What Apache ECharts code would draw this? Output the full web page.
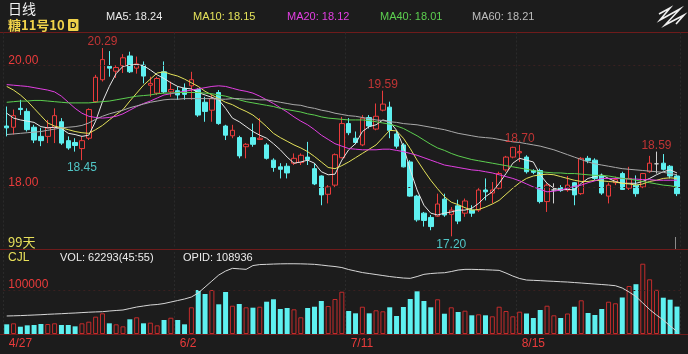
<!DOCTYPE html>
<html><head><meta charset="utf-8">
<script src="https://cdn.jsdelivr.net/npm/echarts@6/dist/echarts.min.js"></script>
<style>html,body{margin:0;padding:0;background:#1c1c1c;}#c{width:688px;height:354px;}</style>
</head><body><div id="c"></div>
<script>
const dates = ['4/27','4/28','4/29','5/2','5/3','5/4','5/5','5/6','5/9','5/10','5/11','5/12','5/13','5/16','5/17','5/18','5/19','5/20','5/23','5/24','5/25','5/26','5/27','5/31','6/1','6/2','6/3','6/6','6/7','6/8','6/9','6/10','6/13','6/14','6/15','6/16','6/17','6/20','6/21','6/22','6/23','6/24','6/27','6/28','6/29','6/30','7/1','7/5','7/6','7/7','7/11','7/12','7/13','7/14','7/15','7/18','7/19','7/20','7/21','7/22','7/25','7/26','7/27','7/28','7/29','8/1','8/2','8/3','8/4','8/5','8/8','8/9','8/10','8/11','8/12','8/15','8/16','8/17','8/18','8/19','8/22','8/23','8/24','8/25','8/26','8/29','8/30','8/31','9/1','9/2','9/6','9/7','9/8','9/9','9/12','9/13','9/14','9/15','9/16'];
const opens  = [19.01,18.99,19.30,19.25,18.99,18.84,18.84,18.99,19.08,18.77,18.74,18.64,18.81,19.41,19.77,19.99,19.91,20.00,20.16,19.96,20.01,19.68,19.55,19.90,19.57,19.59,19.63,19.67,19.61,19.40,19.27,19.56,19.01,18.85,18.82,18.67,18.82,18.79,18.70,18.45,18.34,18.35,18.40,18.41,18.50,18.31,18.19,17.89,18.04,18.49,19.05,18.81,18.70,19.15,18.96,19.27,19.32,18.88,18.70,18.42,17.86,17.58,17.51,17.53,17.81,17.56,17.70,17.58,17.63,17.63,17.96,17.91,17.99,18.29,18.50,18.57,18.50,18.28,18.28,17.77,17.96,18.00,17.96,18.08,17.90,18.48,18.45,18.20,17.86,18.08,18.23,17.99,18.04,18.01,18.26,18.39,18.40,18.35,18.19];
const closes = [18.98,19.18,19.28,18.95,18.78,18.77,18.98,19.18,18.73,18.65,18.69,18.77,19.28,19.81,20.10,19.96,19.97,20.13,19.90,20.03,19.83,19.71,19.79,19.57,19.61,19.52,19.53,19.77,19.19,19.25,19.46,19.05,18.86,18.94,18.52,18.71,18.71,18.81,18.48,18.33,18.30,18.24,18.48,18.53,18.46,18.06,17.88,18.01,18.54,19.05,18.90,18.74,19.14,19.01,19.17,19.37,18.94,18.68,18.34,17.86,17.47,17.46,17.36,17.73,17.55,17.63,17.45,17.78,17.58,17.96,17.93,17.96,18.23,18.50,18.66,18.59,18.26,18.25,17.77,18.04,17.96,17.95,18.04,17.88,18.48,18.44,18.15,17.91,18.04,18.13,17.97,18.15,17.90,18.23,18.40,18.39,18.30,18.19,17.90];
const lows   = [18.84,18.87,19.19,18.92,18.73,18.68,18.73,18.73,18.70,18.62,18.59,18.45,18.78,19.39,19.74,19.82,19.80,19.88,19.88,19.87,19.71,19.49,19.52,19.55,19.49,19.44,19.44,19.44,19.16,19.08,19.08,19.03,18.78,18.81,18.48,18.48,18.67,18.78,18.46,18.26,18.15,18.15,18.37,18.37,18.37,18.04,17.71,17.74,18.01,18.48,18.86,18.71,18.68,18.97,18.94,19.25,18.81,18.64,18.33,17.85,17.44,17.36,17.30,17.52,17.52,17.20,17.40,17.52,17.52,17.60,17.79,17.74,17.97,18.26,18.48,18.42,18.23,18.22,17.74,17.60,17.74,17.93,17.93,17.71,17.88,18.40,18.12,17.88,17.74,18.04,17.96,17.96,17.85,17.99,18.24,18.23,18.28,18.15,17.86];
const highs  = [19.33,19.28,19.44,19.30,19.03,18.98,19.11,19.30,19.14,18.84,18.81,18.84,19.30,19.85,20.29,20.24,20.01,20.19,20.23,20.15,20.07,19.82,19.82,20.07,19.74,19.66,19.71,19.90,19.63,19.49,19.52,19.60,19.03,19.03,18.85,18.73,19.05,19.14,18.73,18.48,18.40,18.40,18.56,18.56,18.75,18.40,18.20,18.04,18.56,19.16,19.14,18.92,19.19,19.19,19.38,19.59,19.41,18.94,18.73,18.45,17.88,17.60,17.55,17.90,17.90,17.68,17.80,17.82,17.71,17.99,18.15,18.09,18.26,18.52,18.67,18.70,18.53,18.30,18.31,18.07,18.07,18.04,18.19,18.09,18.50,18.52,18.48,18.23,18.08,18.18,18.26,18.34,18.20,18.24,18.52,18.59,18.55,18.37,18.22];
const ma5  = [19.22,19.14,19.11,19.09,19.07,19.00,18.98,18.99,18.97,18.89,18.87,18.84,18.86,19.09,19.41,19.66,19.87,19.99,20.01,20.02,20.00,19.93,19.85,19.79,19.72,19.66,19.63,19.62,19.56,19.52,19.48,19.44,19.30,19.14,19.08,19.00,18.92,18.86,18.81,18.72,18.62,18.50,18.40,18.42,18.45,18.40,18.26,18.21,18.22,18.45,18.62,18.72,18.92,19.00,19.03,19.11,19.08,18.94,18.67,18.29,17.96,17.71,17.58,17.55,17.58,17.60,17.63,17.63,17.66,17.74,17.85,17.93,18.07,18.23,18.40,18.48,18.45,18.42,18.21,18.07,17.99,17.96,17.97,17.96,18.07,18.15,18.18,18.21,18.15,18.10,18.07,18.07,18.07,18.10,18.15,18.21,18.26,18.29,18.24];
const ma10 = [19.66,19.60,19.52,19.42,19.30,19.18,19.06,19.01,18.98,18.95,18.92,18.90,18.89,18.95,19.02,19.11,19.20,19.28,19.42,19.55,19.68,19.78,19.88,19.90,19.86,19.83,19.78,19.72,19.66,19.58,19.52,19.46,19.40,19.36,19.30,19.25,19.19,19.10,19.00,18.89,18.82,18.76,18.70,18.65,18.59,18.51,18.42,18.33,18.31,18.36,18.42,18.49,18.56,18.63,18.70,18.82,18.94,18.93,18.81,18.64,18.45,18.28,18.12,17.98,17.85,17.76,17.72,17.67,17.63,17.64,17.68,17.73,17.79,17.89,17.99,18.08,18.15,18.19,18.21,18.22,18.21,18.18,18.15,18.12,18.10,18.10,18.12,18.11,18.10,18.09,18.07,18.06,18.04,18.06,18.10,18.12,18.15,18.16,18.15];
const ma20 = [19.69,19.68,19.67,19.66,19.64,19.62,19.60,19.57,19.50,19.40,19.30,19.22,19.17,19.15,19.14,19.15,19.17,19.21,19.27,19.33,19.38,19.42,19.47,19.52,19.54,19.56,19.58,19.60,19.62,19.64,19.66,19.67,19.66,19.63,19.60,19.58,19.55,19.50,19.44,19.38,19.31,19.24,19.16,19.09,19.03,18.95,18.86,18.79,18.72,18.68,18.64,18.63,18.62,18.62,18.62,18.63,18.63,18.61,18.59,18.56,18.53,18.49,18.45,18.41,18.37,18.35,18.33,18.31,18.29,18.28,18.26,18.24,18.21,18.18,18.15,18.11,18.06,18.01,17.97,17.93,17.94,17.96,17.99,18.02,18.04,18.08,18.11,18.15,18.15,18.15,18.15,18.14,18.14,18.13,18.13,18.12,18.12,18.12,18.12];
const ma40 = [19.40,19.41,19.42,19.42,19.43,19.43,19.42,19.41,19.40,19.39,19.39,19.39,19.39,19.40,19.41,19.42,19.44,19.46,19.48,19.50,19.51,19.52,19.54,19.55,19.55,19.56,19.56,19.56,19.56,19.55,19.54,19.52,19.50,19.47,19.44,19.41,19.39,19.37,19.35,19.33,19.30,19.28,19.26,19.24,19.21,19.19,19.16,19.14,19.13,19.12,19.11,19.11,19.11,19.10,19.08,19.06,19.04,19.01,18.97,18.91,18.85,18.78,18.71,18.65,18.61,18.56,18.52,18.49,18.46,18.44,18.42,18.40,18.38,18.36,18.34,18.32,18.30,18.28,18.26,18.25,18.24,18.24,18.23,18.23,18.22,18.21,18.20,18.20,18.19,18.17,18.15,18.14,18.12,18.10,18.08,18.06,18.04,18.03,18.01];
const ma60 = [18.87,18.88,18.89,18.90,18.91,18.92,18.94,18.96,18.98,18.99,19.00,19.02,19.06,19.12,19.17,19.21,19.24,19.27,19.31,19.34,19.37,19.40,19.42,19.44,19.45,19.45,19.46,19.46,19.46,19.46,19.46,19.45,19.45,19.46,19.46,19.45,19.45,19.44,19.44,19.42,19.40,19.38,19.36,19.35,19.32,19.30,19.27,19.25,19.22,19.20,19.18,19.17,19.15,19.13,19.11,19.10,19.08,19.07,19.05,19.04,19.03,19.01,18.99,18.97,18.95,18.92,18.89,18.87,18.85,18.83,18.82,18.81,18.79,18.77,18.75,18.74,18.72,18.70,18.68,18.65,18.62,18.58,18.54,18.50,18.46,18.42,18.39,18.37,18.35,18.33,18.31,18.30,18.29,18.28,18.27,18.26,18.25,18.23,18.21];
const volumes = [22000,24300,16600,19700,20500,22700,22700,24300,20500,20500,17400,24300,28000,39400,47000,24300,22000,17400,33400,37900,24300,25800,19700,31800,37000,31800,22000,60700,100000,90900,100000,67500,95500,64300,68200,60700,59800,62000,73400,78900,56800,59100,56100,38000,59100,62000,75000,63600,79500,96100,52300,47000,62000,47000,53900,51600,60700,40900,61400,79600,97000,75000,60700,78900,46100,60700,50000,53000,42500,44800,42500,40200,62000,52300,40200,50700,46600,36400,54500,64300,42500,36400,46600,62000,76600,47700,43200,56800,73400,69800,83000,109100,113200,159800,124300,100500,82500,78000,62293];
const openInterest = [182400,183300,184300,185700,187100,188500,190400,191900,193300,195200,196600,198500,200400,201800,202800,206100,208500,210800,217900,225000,229800,234500,236900,241600,248700,255800,263000,272400,291400,319800,348300,376700,395600,408400,406100,403700,421700,426400,427400,428800,429800,430200,430200,429800,428800,427400,424100,420300,417000,412200,402800,395600,388500,383800,379100,374300,369600,365800,362500,361000,369600,380000,383800,386200,387600,393300,400400,403700,403700,402800,401800,400400,398900,386200,371900,360100,353000,351600,350100,348300,346800,344900,343500,341100,338800,336400,334000,331700,329300,326000,315100,296100,274800,244000,213200,187100,163400,135000,108936];
const priceTicks = [18, 20];
const volumeTicks = [100000];
const peakIdx = [14, 55, 75, 95];
const troughIdx = [11, 65];
const volRatio = '45:55';

const BG = '#1c1c1c', RED = '#ea3b3b', CYAN = '#5ef0f0', VRED = '#c42c2c', GRID = '#2a2a2a', SEP = '#6e1b1b';
const FONT = '"Liberation Sans", Arial, sans-serif';
const CJK = '"Noto Sans CJK SC", sans-serif';

const candleData = opens.map((o, i) => [o, closes[i], lows[i], highs[i]]);
const volData = volumes.map((v, i) => ({
  value: v,
  itemStyle: closes[i] >= opens[i] ? {color: 'transparent', borderColor: VRED, borderWidth: 1} : {color: CYAN, borderWidth: 0}
}));
const last = a => a[a.length - 1].toFixed(2);

const chart = echarts.init(document.getElementById('c'), null, {renderer: 'canvas'});
const catAxis = (grid, showLabel) => ({
  type: 'category', gridIndex: grid, data: dates, boundaryGap: true,
  axisLine: {show: false}, axisTick: {show: false},
  axisLabel: {show: showLabel, interval: 24, color: RED, align: 'left', fontSize: 12, margin: 4, padding: [0, 0, 0, 2], fontFamily: FONT},
  splitLine: {show: true, interval: 24, lineStyle: {color: GRID, width: 1, type: [2, 2]}}
});
const maLine = (name, data, color) => ({
  name, type: 'line', xAxisIndex: 0, yAxisIndex: 0, data, symbol: 'none', silent: true,
  lineStyle: {color, width: 1}, z: 3
});

chart.setOption({
  animation: false,
  backgroundColor: BG,
  grid: [
    {left: 3.3, right: 7.6, top: 32.5, height: 216},
    {left: 3.3, right: 7.6, top: 252, height: 82}
  ],
  xAxis: [catAxis(0, false), catAxis(1, true)],
  yAxis: [
    {type: 'value', gridIndex: 0, min: 17.0, max: 20.545, show: false, splitLine: {show: false}},
    {type: 'value', gridIndex: 1, min: 0, max: 186400, show: false, splitLine: {show: false}},
    {type: 'value', gridIndex: 1, min: 97000, max: 486000, show: false, splitLine: {show: false}}
  ],
  series: [
    {
      type: 'candlestick', xAxisIndex: 0, yAxisIndex: 0, data: candleData, barWidth: 5, silent: true,
      itemStyle: {color: BG, color0: CYAN, borderColor: RED, borderColor0: CYAN, borderColorDoji: '#d0d0d0', borderWidth: 1},
      markLine: {
        silent: true, symbol: 'none',
        lineStyle: {color: '#3a2020', type: [2, 3], width: 1},
        label: {show: true, position: 'insideStartTop', distance: [5, -1], color: RED, fontSize: 12, fontFamily: FONT,
                formatter: p => Number(p.value).toFixed(2)},
        data: priceTicks.map(v => ({yAxis: v}))
      }
    },
    maLine('MA5', ma5, '#e6e6e6'),
    maLine('MA10', ma10, '#e4e25a'),
    maLine('MA20', ma20, '#e23fe2'),
    maLine('MA40', ma40, '#5ccf4f'),
    maLine('MA60', ma60, '#a9a9a9'),
    {
      type: 'scatter', xAxisIndex: 0, yAxisIndex: 0, symbolSize: 0, silent: true, z: 5,
      data: peakIdx.map(i => [i, highs[i]]),
      label: {show: true, position: 'top', distance: 0, color: RED, fontSize: 12, fontFamily: FONT,
              formatter: p => p.value[1].toFixed(2)}
    },
    {
      type: 'scatter', xAxisIndex: 0, yAxisIndex: 0, symbolSize: 0, silent: true, z: 5,
      data: troughIdx.map(i => [i, lows[i]]),
      label: {show: true, position: 'bottom', distance: 2, color: CYAN, fontSize: 12, fontFamily: FONT,
              formatter: p => p.value[1].toFixed(2)}
    },
    {
      type: 'bar', xAxisIndex: 1, yAxisIndex: 1, data: volData, barWidth: 5, silent: true,
      markLine: {
        silent: true, symbol: 'none',
        lineStyle: {color: '#3a2020', type: [2, 3], width: 1},
        label: {show: true, position: 'insideStartTop', distance: [5, -1], color: RED, fontSize: 12, fontFamily: FONT,
                formatter: p => String(p.value)},
        data: volumeTicks.map(v => ({yAxis: v}))
      }
    },
    {
      type: 'line', xAxisIndex: 1, yAxisIndex: 2, data: openInterest, symbol: 'none', silent: true,
      lineStyle: {color: '#d6d6d6', width: 1}, z: 4
    }
  ],
  graphic: [
    {type: 'line', shape: {x1: 0, y1: 32.5, x2: 688, y2: 32.5}, style: {stroke: SEP, lineWidth: 1}},
    {type: 'line', shape: {x1: 0, y1: 249.5, x2: 688, y2: 249.5}, style: {stroke: SEP, lineWidth: 1}},
    {type: 'line', shape: {x1: 0, y1: 334.5, x2: 688, y2: 334.5}, style: {stroke: SEP, lineWidth: 1}},
    {type: 'line', shape: {x1: 675.5, y1: 237, x2: 675.5, y2: 249}, style: {stroke: '#8a8a8a', lineWidth: 1}},
    {type: 'text', left: 8, top: 2, style: {text: '日线', fill: '#f2f2f2', font: '14px ' + CJK}},
    {type: 'text', x: 8, y: 25, style: {
      text: '{a|糖11号10} {d|D}', textVerticalAlign: 'middle',
      rich: {
        a: {fill: '#f0d24a', font: 'bold 13px ' + CJK},
        d: {backgroundColor: '#f0d24a', fill: '#1c1c1c', font: 'bold 9px ' + FONT, padding: [2, 2, 1, 2], borderRadius: 1}
      }
    }},
    {type: 'text', x: 106, y: 17, style: {text: 'MA5: ' + last(ma5), fill: '#eaeaea', font: '11px ' + FONT, textVerticalAlign: 'middle'}},
    {type: 'text', x: 193, y: 17, style: {text: 'MA10: ' + last(ma10), fill: '#e4e25a', font: '11px ' + FONT, textVerticalAlign: 'middle'}},
    {type: 'text', x: 287, y: 17, style: {text: 'MA20: ' + last(ma20), fill: '#e23fe2', font: '11px ' + FONT, textVerticalAlign: 'middle'}},
    {type: 'text', x: 380, y: 17, style: {text: 'MA40: ' + last(ma40), fill: '#5ccf4f', font: '11px ' + FONT, textVerticalAlign: 'middle'}},
    {type: 'text', x: 472, y: 17, style: {text: 'MA60: ' + last(ma60), fill: '#bdbdbd', font: '11px ' + FONT, textVerticalAlign: 'middle'}},
    {type: 'polyline', shape: {points: [[659, 14], [670, 8], [660, 20], [680, 9], [665, 25], [684, 15], [676, 24]]}, style: {stroke: '#f0f0f0', lineWidth: 1.6, fill: null}},
    {type: 'text', x: 8, y: 242, style: {text: dates.length + '天', fill: '#e8e05a', font: '13px ' + CJK, textVerticalAlign: 'middle'}},
    {type: 'text', x: 8, y: 258, style: {text: 'CJL', fill: '#e8e05a', font: '12px ' + FONT, textVerticalAlign: 'middle'}},
    {type: 'text', x: 60, y: 258, style: {text: 'VOL: ' + volumes[volumes.length - 1] + '(' + volRatio + ')', fill: '#ececec', font: '11px ' + FONT, textVerticalAlign: 'middle'}},
    {type: 'text', x: 183, y: 258, style: {text: 'OPID: ' + openInterest[openInterest.length - 1], fill: '#ececec', font: '11px ' + FONT, textVerticalAlign: 'middle'}}
  ]
});
</script></body></html>
